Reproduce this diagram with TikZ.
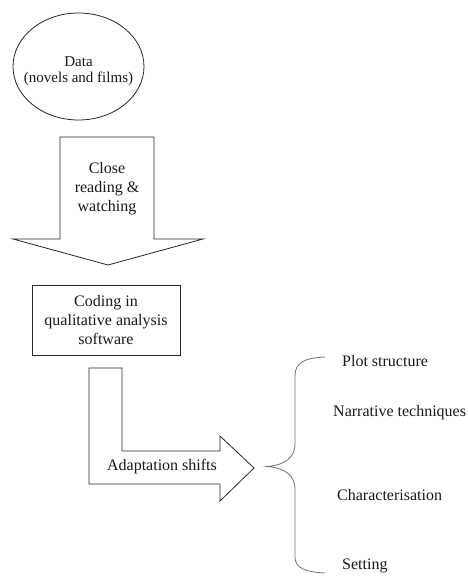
\documentclass[tikz,border=0pt]{standalone}
\usepackage{fontspec}
\setmainfont{Liberation Serif}
\usetikzlibrary{shapes.geometric}
\begin{document}
\begin{tikzpicture}[x=1pt,y=-1pt,
  shape line/.style={draw=black!85,line width=0.8pt,line join=miter},
  big text/.style={font=\fontsize{16}{19}\selectfont,align=center,inner sep=0pt,text=black!90},
  small text/.style={font=\fontsize{15}{16.5}\selectfont,align=center,inner sep=0pt,text=black!90},
  label text/.style={font=\fontsize{16}{19}\selectfont,anchor=west,inner sep=0pt,text=black!90},
  brace line/.style={draw=black!55,line width=0.8pt}]
\useasboundingbox (0,0) rectangle (468,576);
% ellipse
\node[shape line,ellipse,minimum width=131pt,minimum height=107pt,inner sep=0pt] (data) at (78.5,66.5) {};
\node[small text] (datatxt) at (78.5,71) {Data\\(novels and films)};
% down block arrow
\draw[shape line] (60,137) -- (154,137) -- (154,239) -- (203,239) -- (108,265) -- (13,239) -- (60,239) -- cycle;
\node[big text] (close) at (107,189) {Close\\reading \&\\watching};
% coding box
\node[shape line,minimum width=148pt,minimum height=70pt,inner sep=0pt] (coding) at (106,320) {};
\node[big text] (codingtxt) at (106,320) {Coding in\\qualitative analysis\\software};
% L block arrow
\draw[shape line] (89,368) -- (122,368) -- (122,451) -- (220,451) -- (220,436) -- (254,468) -- (220,501) -- (220,484) -- (89,484) -- cycle;
\node[big text] (adapt) at (162,467) {Adaptation shifts};
% brace
\coordinate (btop) at (325,357);
\coordinate (btip) at (267,466.5);
\coordinate (bbot) at (325,573);
\draw[brace line] (btop) .. controls (305,358) and (295,362) .. (295,376) -- (295,443)
  .. controls (295,458) and (285,465) .. (btip)
  .. controls (285,468) and (295,475) .. (295,490) -- (295,557)
  .. controls (295,568) and (305,572) .. (bbot);
% labels
\node[label text] (plot) at (342,361) {Plot structure};
\node[label text] (narr) at (333,413) {Narrative techniques};
\node[label text] (char) at (337,495) {Characterisation};
\node[label text] (sett) at (342,566) {Setting};
\end{tikzpicture}
\end{document}
